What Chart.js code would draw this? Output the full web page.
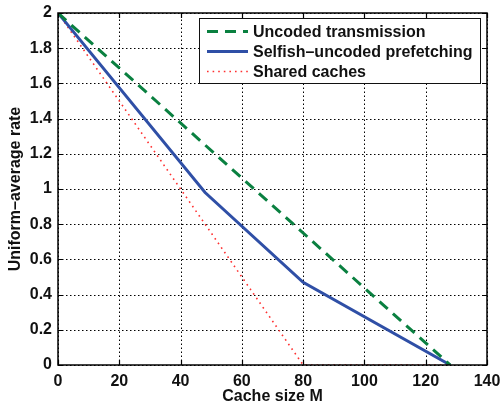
<!DOCTYPE html>
<html>
<head>
<meta charset="utf-8">
<script src="https://cdn.jsdelivr.net/npm/chart.js@4/dist/chart.umd.min.js"></script>
<style>
  html, body { margin: 0; padding: 0; background: #fff; }
  #wrap { width: 501px; height: 405px; position: relative; }
</style>
</head>
<body>
<div id="wrap"><canvas id="chartRate"></canvas></div>
<script>
// data
const uncodedM = [0, 128];
const uncodedRate = [2, 0];
const selfishM = [0, 48, 80, 128];
const selfishRate = [2, 0.98, 0.47, 0];
const sharedM = [0, 80, 128];
const sharedRate = [2, 0, 0];
const seriesLabels = ['Uncoded transmission', 'Selfish\u2013uncoded prefetching', 'Shared caches'];
const xTicks = [0, 20, 40, 60, 80, 100, 120, 140];
const yTicks = [0, 0.2, 0.4, 0.6, 0.8, 1, 1.2, 1.4, 1.6, 1.8, 2];

function pts(xs, ys) {
  return xs.map(function(x, i) { return { x: x, y: ys[i] }; });
}

const FONT = "'Liberation Sans', Arial, sans-serif";

// dotted grid, matlab style
const gridPlugin = {
  id: 'dotGrid',
  beforeDatasetsDraw: function(chart) {
    const { ctx, chartArea: a, scales } = chart;
    ctx.save();
    ctx.strokeStyle = '#000';
    ctx.lineWidth = 1;
    ctx.setLineDash([1.5, 2.5]);
    xTicks.forEach(function(v) {
      const px = Math.round(scales.x.getPixelForValue(v)) + 0.5;
      ctx.beginPath();
      ctx.moveTo(px, a.bottom); ctx.lineTo(px, a.top);
      ctx.stroke();
    });
    yTicks.forEach(function(v) {
      const py = Math.round(scales.y.getPixelForValue(v)) + 0.5;
      ctx.beginPath();
      ctx.moveTo(a.left, py); ctx.lineTo(a.right, py);
      ctx.stroke();
    });
    ctx.restore();
  }
};

// frame + inward ticks
const framePlugin = {
  id: 'frame',
  afterDraw: function(chart) {
    const { ctx, chartArea: a, scales } = chart;
    ctx.save();
    ctx.setLineDash([]);
    ctx.strokeStyle = '#000';
    ctx.lineWidth = 1.2;
    ctx.beginPath();
    xTicks.forEach(function(v) {
      const px = Math.round(scales.x.getPixelForValue(v)) + 0.5;
      ctx.moveTo(px, a.bottom); ctx.lineTo(px, a.bottom - 5);
      ctx.moveTo(px, a.top); ctx.lineTo(px, a.top + 5);
    });
    yTicks.forEach(function(v) {
      const py = Math.round(scales.y.getPixelForValue(v)) + 0.5;
      ctx.moveTo(a.left, py); ctx.lineTo(a.left + 5, py);
      ctx.moveTo(a.right, py); ctx.lineTo(a.right - 5, py);
    });
    ctx.stroke();
    ctx.lineWidth = 1.5;
    ctx.strokeRect(a.left, a.top, a.right - a.left, a.bottom - a.top);
    ctx.restore();
  }
};

// legend box in the upper right corner
const legendPlugin = {
  id: 'boxLegend',
  afterDraw: function(chart) {
    const ctx = chart.ctx;
    const bx = 199, by = 18, bw = 281, bh = 65;
    ctx.save();
    ctx.fillStyle = '#fff';
    ctx.fillRect(bx, by, bw, bh);
    ctx.strokeStyle = '#111';
    ctx.lineWidth = 1;
    ctx.strokeRect(bx + 0.5, by + 0.5, bw, bh);
    ctx.font = 'bold 16px ' + FONT;
    ctx.textBaseline = 'middle';
    chart.data.datasets.forEach(function(ds, i) {
      const y = by + 13.5 + i * 20;
      ctx.strokeStyle = ds.borderColor;
      ctx.lineWidth = ds.borderWidth;
      ctx.setLineDash(ds.borderDash || []);
      ctx.beginPath();
      ctx.moveTo(bx + 8, y);
      ctx.lineTo(bx + 49, y);
      ctx.stroke();
      ctx.setLineDash([]);
      ctx.fillStyle = '#111';
      ctx.fillText(ds.label, bx + 54, y + 1);
    });
    ctx.restore();
  }
};

document.addEventListener('DOMContentLoaded', function() {
  const ctx = document.getElementById('chartRate');
  new Chart(ctx, {
    type: 'line',
    data: {
      datasets: [{
        label: seriesLabels[0],
        data: pts(uncodedM, uncodedRate),
        borderColor: '#0a8040',
        borderWidth: 3,
        borderDash: [11, 7],
        pointRadius: 0,
        fill: false
      }, {
        label: seriesLabels[1],
        data: pts(selfishM, selfishRate),
        borderColor: '#2f4fa6',
        borderWidth: 3,
        pointRadius: 0,
        fill: false
      }, {
        label: seriesLabels[2],
        data: pts(sharedM, sharedRate),
        borderColor: '#ff3030',
        borderWidth: 1.6,
        borderDash: [1.6, 4],
        pointRadius: 0,
        fill: false
      }]
    },
    options: {
      responsive: true,
      maintainAspectRatio: false,
      animation: false,
      layout: { padding: { left: 8, right: 14, top: 13, bottom: 0 } },
      plugins: {
        legend: { display: false },
        tooltip: { enabled: false }
      },
      scales: {
        x: {
          type: 'linear',
          min: 0,
          max: 140,
          afterBuildTicks: function(scale) {
            scale.ticks = xTicks.map(function(v) { return { value: v }; });
          },
          afterFit: function(scale) {
            scale.height = 40;
            scale.paddingRight = 0;
            scale.paddingLeft = 0;
          },
          grid: { display: false, drawTicks: false },
          border: { display: false },
          ticks: {
            padding: 7,
            color: '#111',
            maxRotation: 0,
            font: { family: FONT, size: 16, weight: 'bold' }
          },
          title: {
            display: true,
            text: 'Cache size M',
            color: '#111',
            padding: { top: 0, bottom: 0 },
            font: { family: FONT, size: 16, weight: 'bold', lineHeight: 1.0 }
          }
        },
        y: {
          type: 'linear',
          min: 0,
          max: 2,
          afterBuildTicks: function(scale) {
            scale.ticks = yTicks.map(function(v) { return { value: v }; });
          },
          afterFit: function(scale) {
            scale.width = 50;
            scale.paddingTop = 0;
            scale.paddingBottom = 0;
          },
          grid: { display: false, drawTicks: false },
          border: { display: false },
          ticks: {
            padding: 6,
            color: '#111',
            font: { family: FONT, size: 16, weight: 'bold' },
            callback: function(v) { return String(Number(v.toFixed(1))); }
          },
          title: {
            display: true,
            text: 'Uniform\u2013average rate',
            color: '#111',
            padding: { top: 0, bottom: 2 },
            font: { family: FONT, size: 16, weight: 'bold', lineHeight: 1.0 }
          }
        }
      }
    },
    plugins: [gridPlugin, framePlugin, legendPlugin]
  });
});
</script>
</body>
</html>
